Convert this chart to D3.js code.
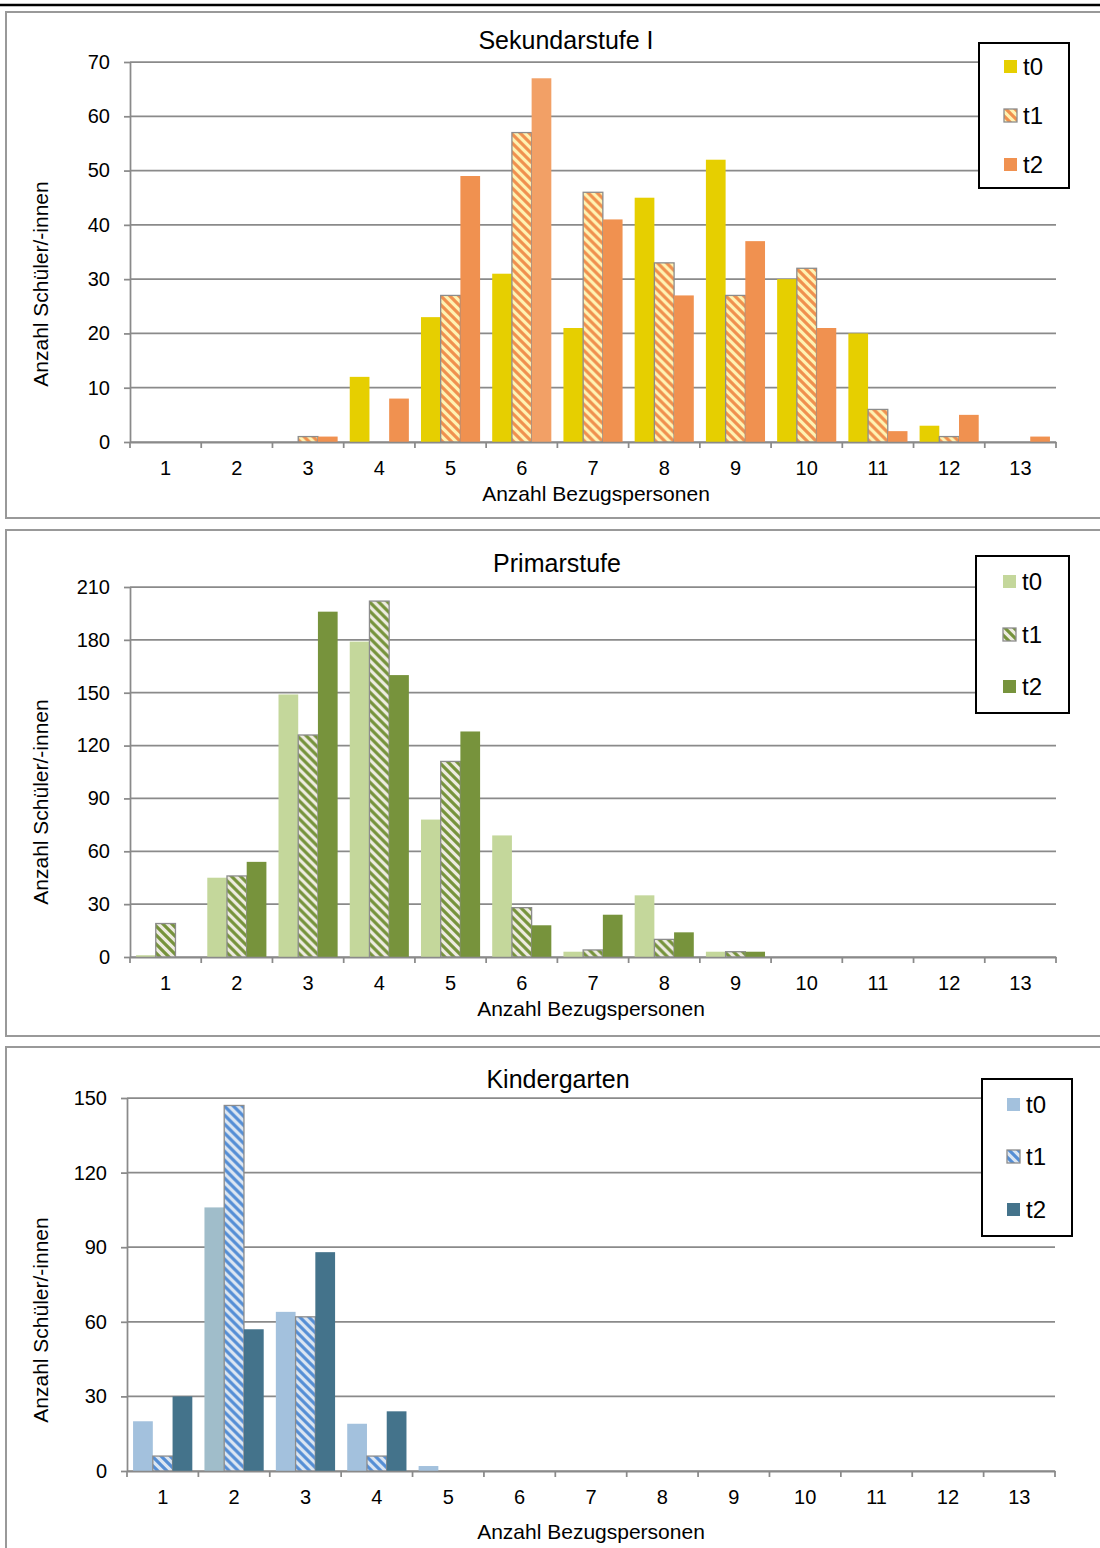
<!DOCTYPE html>
<html>
<head>
<meta charset="utf-8">
<script src="https://cdn.jsdelivr.net/npm/d3@7"></script>
<style>
body { margin: 0; background: #fff; }
svg { display: block; font-family: "Liberation Sans", Arial, sans-serif; }
</style>
</head>
<body>
<svg id="chart" width="1100" height="1548"></svg>
<script>
// categories on the x axis (Anzahl Bezugspersonen)
var categories = ["1", "2", "3", "4", "5", "6", "7", "8", "9", "10", "11", "12", "13"];
var seriesNames = ["t0", "t1", "t2"];

// Sekundarstufe I
var sekT0 = [0, 0, 0, 12, 23, 31, 21, 45, 52, 30, 20, 3, 0];
var sekT1 = [0, 0, 1, 0, 27, 57, 46, 33, 27, 32, 6, 1, 0];
var sekT2 = [0, 0, 1, 8, 49, 67, 41, 27, 37, 21, 2, 5, 1];
var sekTicks = [0, 10, 20, 30, 40, 50, 60, 70];

// Primarstufe
var priT0 = [1, 45, 149, 179, 78, 69, 3, 35, 3, 0, 0, 0, 0];
var priT1 = [19, 46, 126, 202, 111, 28, 4, 10, 3, 0, 0, 0, 0];
var priT2 = [0, 54, 196, 160, 128, 18, 24, 14, 3, 0, 0, 0, 0];
var priTicks = [0, 30, 60, 90, 120, 150, 180, 210];

// Kindergarten
var kinT0 = [20, 106, 64, 19, 2, 0, 0, 0, 0, 0, 0, 0, 0];
var kinT1 = [6, 147, 62, 6, 0, 0, 0, 0, 0, 0, 0, 0, 0];
var kinT2 = [30, 57, 88, 24, 0, 0, 0, 0, 0, 0, 0, 0, 0];
var kinTicks = [0, 30, 60, 90, 120, 150];

var gridColor = "#8a8a8a";

var svg = d3.select("#chart");
var defs = svg.append("defs");

// thick rule on top of the page
svg.append("line")
	.attr("x1", 0).attr("x2", 1100)
	.attr("y1", 5).attr("y2", 5)
	.style("stroke", "#000")
	.style("stroke-width", 2.5);

function makeHatch(id, bg, fg) {
	var s = 9;
	var pat = defs.append("pattern")
		.attr("id", id)
		.attr("patternUnits", "userSpaceOnUse")
		.attr("width", s)
		.attr("height", s);
	pat.append("rect")
		.attr("width", s).attr("height", s)
		.style("fill", bg);
	// "\" wide downward diagonal
	pat.append("path")
		.attr("d", "M-2,-2L" + (s + 2) + "," + (s + 2) +
			"M-2," + (s - 2) + "L2," + (s + 2) +
			"M" + (s - 2) + ",-2L" + (s + 2) + ",2")
		.style("stroke", fg)
		.style("stroke-width", 3.2)
		.style("fill", "none");
	return "url(#" + id + ")";
}

function drawPanel(p) {
	var g = svg.append("g");

	// panel frame
	g.append("rect")
		.attr("x", 6).attr("y", p.frameTop)
		.attr("width", 1200).attr("height", p.frameH)
		.style("fill", "none")
		.style("stroke", "#999")
		.style("stroke-width", 2);

	var x0 = d3.scaleBand().domain(categories).range([p.left, p.right]);
	var gap = x0.bandwidth() * 0.085;
	var x1 = d3.scaleBand().domain(seriesNames).range([gap, x0.bandwidth() - gap]);
	var y = d3.scaleLinear()
		.domain([0, p.ticks[p.ticks.length - 1]])
		.range([p.bottom, p.top]);

	// gridlines
	g.selectAll(".grid")
		.data(p.ticks)
		.enter().append("line")
		.attr("class", "grid")
		.attr("x1", p.left).attr("x2", p.right)
		.attr("y1", function (d) { return y(d); })
		.attr("y2", function (d) { return y(d); })
		.style("stroke", gridColor)
		.style("stroke-width", 1.75);

	var fills = [p.colors[0], makeHatch(p.id + "Hatch", p.hatchBg, p.hatchFg), p.colors[2]];

	var groups = g.selectAll(".cat")
		.data(categories)
		.enter().append("g")
		.attr("class", "cat")
		.attr("transform", function (d) { return "translate(" + x0(d) + ",0)"; });

	groups.selectAll("rect")
		.data(function (d, i) {
			return p.series.map(function (s, j) {
				return { name: seriesNames[j], v: s[i], j: j, i: i };
			}).filter(function (e) { return e.v > 0; });
		})
		.enter().append("rect")
		.attr("x", function (d) { return x1(d.name); })
		.attr("width", x1.bandwidth())
		.attr("y", function (d) { return y(d.v); })
		.attr("height", function (d) { return y(0) - y(d.v); })
		.style("fill", function (d) {
			if (p.override && p.override.j == d.j && p.override.i == d.i)
				return p.override.color;
			return fills[d.j];
		})
		.style("stroke", function (d) { return d.j == 1 ? "#8c8c8c" : "none"; })
		.style("stroke-width", 1.3);

	// y axis
	var yAxis = g.append("g")
		.attr("transform", "translate(" + p.left + ",0)")
		.call(d3.axisLeft(y).tickValues(p.ticks).tickSize(6).tickSizeOuter(0).tickPadding(p.yPad));
	// x axis
	var xAxis = g.append("g")
		.attr("transform", "translate(0," + p.bottom + ")")
		.call(d3.axisBottom(x0).tickSize(0).tickSizeOuter(0).tickPadding(p.xPad));
	[yAxis, xAxis].forEach(function (a) {
		a.select(".domain").style("stroke", gridColor).style("stroke-width", 1.75);
		a.selectAll(".tick line").style("stroke", gridColor).style("stroke-width", 1.75);
		a.selectAll("text")
			.style("font-family", "'Liberation Sans', Arial, sans-serif")
			.style("font-size", "20px")
			.style("fill", "#000");
	});
	// tick marks between the categories
	var edges = categories.map(function (c) { return x0(c); }).concat([p.right]);
	g.selectAll(".xtick")
		.data(edges)
		.enter().append("line")
		.attr("class", "xtick")
		.attr("x1", function (d) { return d; })
		.attr("x2", function (d) { return d; })
		.attr("y1", p.bottom).attr("y2", p.bottom + 6)
		.style("stroke", gridColor)
		.style("stroke-width", 1.75);

	// titles
	g.append("text")
		.attr("x", p.titleX).attr("y", p.titleY)
		.attr("text-anchor", "middle")
		.style("font-size", "25px")
		.text(p.title);
	g.append("text")
		.attr("x", p.xLabelX).attr("y", p.xLabelY)
		.attr("text-anchor", "middle")
		.style("font-size", "21px")
		.text("Anzahl Bezugspersonen");
	g.append("text")
		.attr("transform", "translate(" + 48 + "," + p.yLabelY + ") rotate(-90)")
		.attr("text-anchor", "middle")
		.style("font-size", "21px")
		.text("Anzahl Schüler/-innen");

	// legend
	var lg = g.append("g").attr("transform", "translate(" + p.legend.x + "," + p.legend.y + ")");
	lg.append("rect")
		.attr("width", p.legend.w).attr("height", p.legend.h)
		.style("fill", "#fff")
		.style("stroke", "#000")
		.style("stroke-width", 2);
	var items = lg.selectAll(".item")
		.data(seriesNames)
		.enter().append("g")
		.attr("class", "item")
		.attr("transform", function (d, i) {
			return "translate(" + p.legend.sx + "," + p.legend.rows[i] + ")";
		});
	items.append("rect")
		.attr("x", 0).attr("y", -7)
		.attr("width", 13).attr("height", 13)
		.style("fill", function (d, i) { return fills[i]; })
		.style("stroke", function (d, i) { return i == 1 ? "#8c8c8c" : "none"; })
		.style("stroke-width", 1.3);
	items.append("text")
		.attr("x", 19).attr("y", 8)
		.style("font-size", "24px")
		.text(function (d) { return d; });
}

drawPanel({
	id: "sek", title: "Sekundarstufe I",
	series: [sekT0, sekT1, sekT2], ticks: sekTicks,
	colors: ["#e6cf00", null, "#f09150"], hatchBg: "#fff3b3", hatchFg: "#f0904e",
	override: { j: 2, i: 5, color: "#f2a066" },
	frameTop: 12, frameH: 506,
	left: 130, right: 1056, top: 62, bottom: 442,
	yPad: 14, xPad: 19,
	titleX: 566, titleY: 49, xLabelX: 596, xLabelY: 501, yLabelY: 284,
	legend: { x: 979, y: 43, w: 90, h: 145, sx: 25, rows: [24, 73, 122] }
});

drawPanel({
	id: "pri", title: "Primarstufe",
	series: [priT0, priT1, priT2], ticks: priTicks,
	colors: ["#c4d79b", null, "#77933c"], hatchBg: "#eeece1", hatchFg: "#76933c",
	frameTop: 530, frameH: 506,
	left: 130, right: 1056, top: 587, bottom: 957,
	yPad: 14, xPad: 19,
	titleX: 557, titleY: 572, xLabelX: 591, xLabelY: 1016, yLabelY: 802,
	legend: { x: 976, y: 556, w: 93, h: 157, sx: 27, rows: [26, 79, 131] }
});

drawPanel({
	id: "kin", title: "Kindergarten",
	series: [kinT0, kinT1, kinT2], ticks: kinTicks,
	colors: ["#a3c1dd", null, "#44738b"], hatchBg: "#dce6f2", hatchFg: "#558ed5",
	override: { j: 0, i: 1, color: "#a0bdca" },
	frameTop: 1047, frameH: 600,
	left: 127, right: 1055, top: 1098, bottom: 1471,
	yPad: 14, xPad: 19,
	titleX: 558, titleY: 1088, xLabelX: 591, xLabelY: 1539, yLabelY: 1320,
	legend: { x: 982, y: 1079, w: 90, h: 157, sx: 25, rows: [26, 78, 131] }
});
</script>
</body>
</html>
